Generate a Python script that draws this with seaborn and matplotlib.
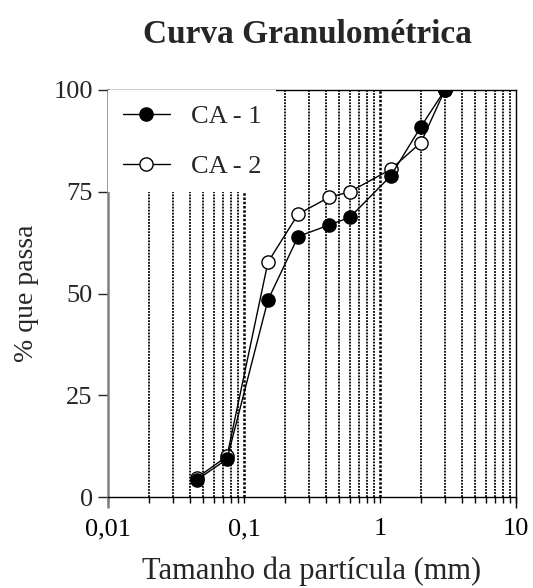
import numpy as np
import pandas as pd
import matplotlib
matplotlib.use("Agg")
import matplotlib.pyplot as plt
import seaborn as sns

# ---- data ----
sizes_mm = [0.045, 0.075, 0.15, 0.25, 0.42, 0.6, 1.2, 2.0, 3.0]
ca1 = [4.2, 9.3, 48.4, 64.0, 66.8, 68.7, 78.9, 91.0, 100.0]
ca2 = [4.7, 10.0, 57.7, 69.5, 73.6, 75.0, 80.5, 87.1, 100.0]
series_names = ["CA - 1", "CA - 2"]
x_ticks = [0.01, 0.1, 1, 10]
x_ticklabels = ["0,01", "0,1", "1", "10"]
y_ticks = [0, 25, 50, 75, 100]

sns.set_style("white")
plt.rcParams["font.family"] = ["Liberation Serif", "DejaVu Serif"]

fig = plt.figure(figsize=(5.33, 5.88), dpi=100)
ax = fig.add_axes([108/533, 1-497/588, (516-108)/533, (497-90)/588])

df1 = pd.DataFrame({"x": sizes_mm, "y": ca1})
df2 = pd.DataFrame({"x": sizes_mm, "y": ca2})

# CA-2 drawn first (beneath), CA-1 on top
sns.lineplot(data=df2, x="x", y="y", ax=ax, color="black", lw=1.0,
             marker="o", markersize=9.5, markerfacecolor="white",
             markeredgecolor="black", markeredgewidth=1.0,
             label=series_names[1], zorder=3, errorbar=None)
sns.lineplot(data=df1, x="x", y="y", ax=ax, color="black", lw=1.0,
             marker="o", markersize=9.5, markerfacecolor="black",
             markeredgecolor="black", markeredgewidth=1.0,
             label=series_names[0], zorder=4, errorbar=None)

ax.set_xscale("log")
ax.set_xlim(0.01, 10)
ax.set_ylim(0, 100)

# vertical dotted grid at every minor/major position within range
grid_pos = []
for dec in [0.01, 0.1, 1]:
    for m in range(1, 10):
        v = dec * m
        if v > 0.01 + 1e-9:
            grid_pos.append(v)
def is_major(v):
    return abs(np.log10(v) - round(np.log10(v))) < 1e-6
for v in grid_pos:
    ax.axvline(v, color="black", lw=1.8 if is_major(v) else 1.3,
               ls=(0, (1, 0.7)), zorder=1)

ax.set_xticks(x_ticks)
ax.set_xticklabels(x_ticklabels)
ax.set_xticks([v for v in grid_pos if not is_major(v)], minor=True)
ax.set_yticks(y_ticks)
ax.tick_params(axis="x", which="both", direction="out", length=4.3, width=1.0,
               labelsize=19, pad=11, bottom=True, colors="black")
ax.tick_params(axis="x", which="minor", labelbottom=False)
ax.tick_params(axis="y", which="major", direction="out", length=7.5, width=1.0,
               labelsize=19, pad=3.5, left=True)

for s in ["top", "right", "bottom"]:
    ax.spines[s].set_visible(True)
    ax.spines[s].set_color("black")
    ax.spines[s].set_linewidth(1.0)
ax.spines["left"].set_color("#808080")
ax.spines["left"].set_linewidth(1.8)
# spine extensions below the x axis
ax.plot([0, 0], [-0.027, 0], transform=ax.transAxes, color="#808080", lw=1.8,
        clip_on=False, solid_capstyle="butt")
ax.plot([1, 1], [-0.027, 0], transform=ax.transAxes, color="black", lw=1.0,
        clip_on=False, solid_capstyle="butt")

ax.set_xlabel("Tamanho da partícula (mm)", fontsize=22, labelpad=12)
ax.set_ylabel("% que passa", fontsize=20, labelpad=10)
ax.set_title("Curva Granulométrica", fontsize=24, fontweight="bold", pad=34, x=0.49)

handles, labels = ax.get_legend_handles_labels()
order = [labels.index(n) for n in series_names]
leg = ax.legend([handles[i] for i in order], [labels[i] for i in order],
                loc="upper left", fontsize=19, frameon=True, fancybox=False,
                facecolor="white", edgecolor="none", framealpha=1.0,
                handlelength=1.8, handletextpad=0.8, labelspacing=1.0,
                borderaxespad=0.0, borderpad=0.55)
leg.set_zorder(5)

fig.savefig("out.png", dpi=100)
